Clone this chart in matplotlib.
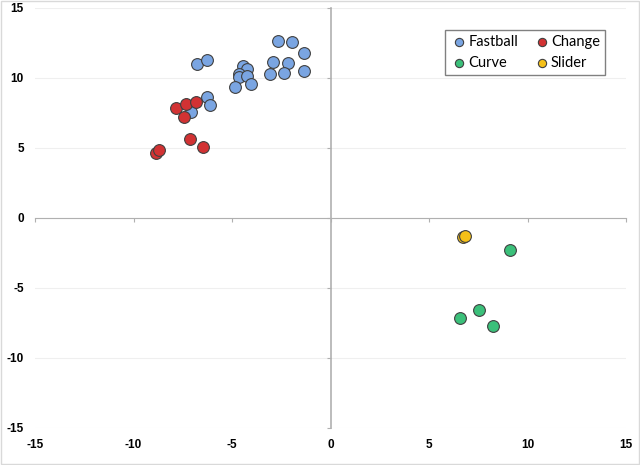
import matplotlib
matplotlib.use("Agg")
import matplotlib.pyplot as plt
from matplotlib.patches import Rectangle

plt.rcParams['font.family'] = ['Lato', 'DejaVu Sans']
plt.rcParams['axes.unicode_minus'] = False

# pitch locations
fast_x = [-6.8, -6.26, -2.67, -1.95, -1.35, -2.94, -2.18, -3.06, -2.34, -1.35,
          -4.45, -4.25, -4.65, -4.65, -4.26, -4.05, -4.86, -6.26, -6.14, -7.07]
fast_y = [10.98, 11.26, 12.67, 12.55, 11.76, 11.14, 11.07, 10.29, 10.36, 10.48,
          10.88, 10.66, 10.29, 10.05, 10.14, 9.57, 9.36, 8.67, 8.05, 7.55]
change_x = [-7.85, -7.36, -6.85, -7.46, -7.14, -6.46, -8.85, -8.73]
change_y = [7.86, 8.16, 8.26, 7.24, 5.67, 5.07, 4.67, 4.84]
curve_x = [9.12, 7.55, 6.55, 8.24]
curve_y = [-2.31, -6.6, -7.12, -7.71]
slider_x = [6.72, 6.82]
slider_y = [-1.38, -1.26]

ticks = [-15, -10, -5, 0, 5, 10, 15]

fig = plt.figure(figsize=(6.4, 4.65), dpi=100)
pos = [35/640, 1-428/465, 591/640, 420/465]
ax = fig.add_axes(pos)
ax.set_xlim(-15, 15)
ax.set_ylim(-15, 15)
ax.set_xticks(ticks)
ax.set_yticks(ticks)
tick_font = dict(family='Liberation Sans', fontweight='bold', fontsize=8.5)
ax.set_xticklabels([str(t) for t in ticks], **tick_font)
ax.set_yticklabels([str(t) for t in ticks], **tick_font)
for s in ax.spines.values():
    s.set_visible(False)
ax.tick_params(length=0, pad=8)
ax.grid(axis='y', color='#EFEFEF', lw=0.8)
ax.set_axisbelow(True)

# axes crossing at the origin
ax2 = fig.add_axes(pos, sharex=ax, sharey=ax)
ax2.patch.set_visible(False)
ax2.spines['top'].set_visible(False)
ax2.spines['right'].set_visible(False)
ax2.spines['left'].set_position(('data', 0))
ax2.spines['bottom'].set_position(('data', 0))
ax2.spines['left'].set_color('#B0B0B0')
ax2.spines['bottom'].set_color('#B0B0B0')
ax2.spines['left'].set_linewidth(1.2)
ax2.tick_params(labelleft=False, labelbottom=False, length=3, color='#B0B0B0', direction='out')

kw = dict(s=72, edgecolors='#404040', linewidths=0.8, zorder=3)
h_fast = ax2.scatter(fast_x, fast_y, c='#7AA5E2', label='Fastball', **kw)
h_change = ax2.scatter(change_x, change_y, c='#D23233', label='Change', **kw)
h_curve = ax2.scatter(curve_x, curve_y, c='#3BC07A', label='Curve', **kw)
h_slider = ax2.scatter(slider_x, slider_y, c='#F5C018', label='Slider', **kw)

# legend reads row-wise: Fastball, Change / Curve, Slider
leg = ax2.legend([h_fast, h_curve, h_change, h_slider],
                 ['Fastball', 'Curve', 'Change', 'Slider'],
                 ncol=2, loc='upper right', bbox_to_anchor=(0.977, 0.965),
                 fontsize=10.5, frameon=True, fancybox=False, markerscale=0.7,
                 handletextpad=0.05, columnspacing=1.0, borderpad=0.35,
                 labelspacing=0.45, handlelength=1.2)
leg.get_frame().set_edgecolor('#606060')
leg.get_frame().set_linewidth(1)

fig.patches.append(Rectangle((0.002, 0.002), 0.996, 0.996, transform=fig.transFigure,
                             fill=False, edgecolor='#D9D9D9', lw=1))

fig.savefig('out.png', dpi=100)
